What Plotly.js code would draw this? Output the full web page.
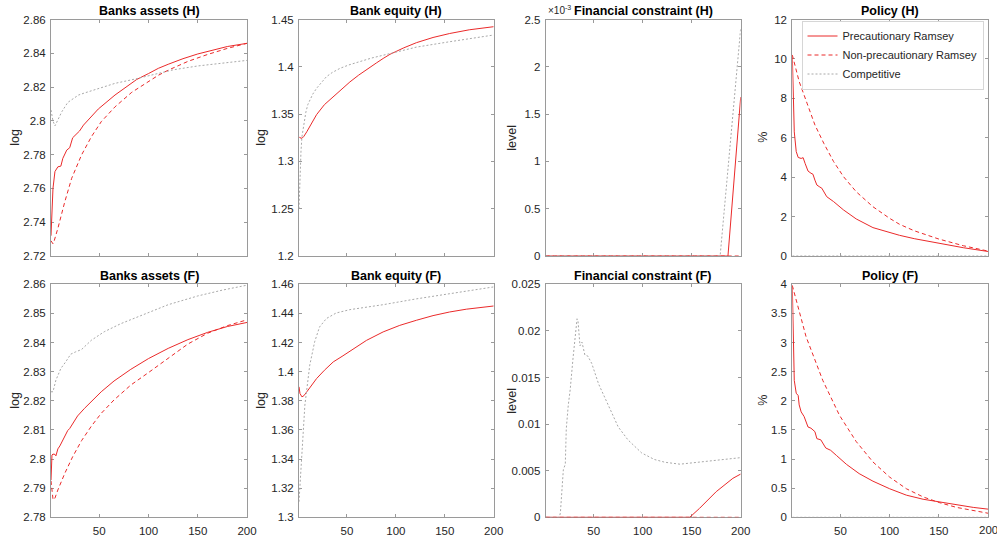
<!DOCTYPE html>
<html>
<head>
<meta charset="utf-8">
<script src="https://cdn.plot.ly/plotly-3.0.1.min.js"></script>
<style>html,body{margin:0;padding:0;background:#fff;overflow:hidden;}#chart{width:997px;height:539px;}</style>
</head>
<body>
<div id="chart"></div>
<script>
// ---------------- DATA ----------------
const seriesNames = ["Precautionary Ramsey", "Non-precautionary Ramsey", "Competitive"];
const panelTitles = ["Banks assets (H)", "Bank equity (H)", "Financial constraint (H)", "Policy (H)",
                     "Banks assets (F)", "Bank equity (F)", "Financial constraint (F)", "Policy (F)"];
const yLabels = ["log", "log", "level", "%", "log", "log", "level", "%"];
const xTicks = [50, 100, 150, 200];
const xTickText = ["50", "100", "150", "200"];

// Banks assets (H)
const tAssetsH_prec = [1, 2, 3, 5, 8, 11, 13, 17, 20, 23, 27, 30, 34, 39, 49, 66, 83, 88, 100, 110, 120, 135, 150, 165, 180, 200];
const assetsH_prec  = [2.732, 2.748, 2.760, 2.770, 2.7728, 2.7732, 2.7778, 2.7827, 2.7841, 2.7900, 2.7920, 2.7940, 2.7975, 2.8005, 2.8070, 2.8153, 2.8225, 2.8245, 2.8280, 2.8311, 2.8335, 2.8368, 2.8396, 2.8420, 2.8440, 2.8459];
const tAssetsH_non  = [1, 2, 3, 4, 6, 8, 15, 22, 32, 42, 52, 66, 83, 100, 110, 120, 140, 160, 180, 200];
const assetsH_non   = [2.7290, 2.7278, 2.7272, 2.7285, 2.7320, 2.7364, 2.7521, 2.7660, 2.7798, 2.7906, 2.7995, 2.8083, 2.8169, 2.8235, 2.8270, 2.8300, 2.8352, 2.8393, 2.8429, 2.8459];
const tAssetsH_comp = [1, 2, 3, 5, 8, 12, 18, 24, 29, 35, 49, 66, 86, 110, 125, 150, 175, 200];
const assetsH_comp  = [2.8064, 2.8030, 2.8000, 2.7970, 2.8010, 2.8054, 2.8109, 2.8135, 2.8153, 2.8165, 2.8192, 2.8222, 2.8247, 2.8281, 2.8302, 2.8325, 2.8343, 2.8358];

// Bank equity (H)
const tEquityH_prec = [1, 2, 4, 6, 9, 14, 19, 27, 36, 45, 53, 62, 70, 80, 87, 94, 108, 121, 138, 155, 175, 200];
const equityH_prec  = [1.3261, 1.3250, 1.3244, 1.3265, 1.3314, 1.3410, 1.3495, 1.3600, 1.3684, 1.3768, 1.3840, 1.3912, 1.3972, 1.4040, 1.4088, 1.4132, 1.4200, 1.4255, 1.4310, 1.4352, 1.4391, 1.4424];
const tEquityH_comp = [1, 2, 3, 4, 5, 6, 8, 10, 12, 15, 19, 24, 29, 35, 43, 52, 63, 75, 94, 121, 155, 200];
const equityH_comp  = [1.250, 1.285, 1.310, 1.326, 1.334, 1.341, 1.352, 1.360, 1.365, 1.371, 1.3773, 1.384, 1.3895, 1.3940, 1.3984, 1.4020, 1.4054, 1.4092, 1.4140, 1.4208, 1.4265, 1.4336];

// Financial constraint (H), in units of 1e-3
const tFinH_prec = [1, 187, 200];
const finH_prec  = [0, 0, 1.68];
const tFinH_non  = [1, 200];
const finH_non   = [0, 0];
const tFinH_comp = [1, 179, 200];
const finH_comp  = [0, 0, 2.41];

// Policy (H), %
const tPolicyH_prec = [1, 2, 3, 5, 7, 10, 12, 14, 17, 20, 22, 24, 26, 29, 31, 36, 43, 53, 66, 83, 100, 110, 125, 150, 175, 200];
const policyH_prec  = [10.2, 8.0, 6.3, 5.3, 5.0, 4.95, 4.99, 4.7, 4.31, 4.2, 4.15, 3.85, 3.60, 3.50, 3.44, 3.01, 2.76, 2.34, 1.88, 1.44, 1.18, 1.05, 0.88, 0.64, 0.42, 0.23];
const tPolicyH_non  = [1, 4, 8, 16, 24, 33, 43, 53, 66, 83, 100, 110, 125, 150, 175, 200];
const policyH_non   = [10.2, 9.6, 8.85, 7.75, 6.65, 5.72, 4.79, 4.03, 3.26, 2.50, 1.91, 1.61, 1.28, 0.86, 0.52, 0.25];
const tPolicyH_comp = [1, 200];
const policyH_comp  = [0, 0];

// Banks assets (F)
const tAssetsF_prec = [1, 2, 3, 5, 6, 8, 10, 12, 15, 18, 20, 23, 28, 35, 42, 52, 65, 75, 82, 100, 120, 140, 160, 180, 200];
const assetsF_prec  = [2.7928, 2.8014, 2.8017, 2.8016, 2.8011, 2.8035, 2.8045, 2.8058, 2.8080, 2.8098, 2.8105, 2.8120, 2.8148, 2.8174, 2.8197, 2.8231, 2.8268, 2.8293, 2.8308, 2.8345, 2.8380, 2.8410, 2.8435, 2.8455, 2.8469];
const tAssetsF_non  = [1, 2, 3, 4, 5, 8, 15, 23, 32, 42, 52, 65, 82, 100, 120, 140, 160, 180, 200];
const assetsF_non   = [2.7925, 2.7885, 2.7863, 2.7860, 2.7866, 2.7894, 2.7951, 2.8008, 2.8063, 2.8113, 2.8157, 2.8203, 2.8254, 2.8297, 2.8345, 2.8395, 2.8432, 2.8458, 2.8478];
const tAssetsF_comp = [1, 3, 6, 11, 16, 21, 26, 32, 42, 55, 72, 93, 110, 120, 150, 175, 200];
const assetsF_comp  = [2.8231, 2.8231, 2.8271, 2.8311, 2.8334, 2.8360, 2.8368, 2.8376, 2.8408, 2.8437, 2.8465, 2.8494, 2.8517, 2.8530, 2.8560, 2.8580, 2.8597];

// Bank equity (F)
const tEquityF_prec = [1, 2, 4, 6, 9, 14, 19, 27, 36, 45, 53, 70, 87, 104, 121, 138, 155, 172, 200];
const equityF_prec  = [1.3896, 1.3850, 1.3827, 1.3835, 1.3862, 1.3910, 1.3953, 1.4010, 1.4067, 1.4105, 1.4141, 1.4215, 1.4273, 1.4318, 1.4353, 1.4385, 1.4410, 1.4429, 1.4451];
const tEquityF_comp = [1, 2, 3, 4, 5, 7, 9, 12, 17, 22, 29, 39, 53, 87, 121, 155, 200];
const equityF_comp  = [1.3107, 1.322, 1.335, 1.345, 1.360, 1.377, 1.388, 1.4045, 1.4205, 1.4307, 1.4365, 1.4403, 1.4426, 1.4460, 1.4500, 1.4536, 1.4582];

// Financial constraint (F)
const tFinF_prec = [1, 148, 158, 175, 192, 200];
const finF_prec  = [0, 0, 0.00096, 0.00275, 0.00418, 0.00464];
const tFinF_non  = [1, 200];
const finF_non   = [0, 0];
const tFinF_comp = [1, 15, 16, 17, 19, 21, 22, 24, 26, 29, 33, 34, 36, 38, 39, 41, 44, 48, 55, 65, 75, 85, 99, 112, 123, 138, 165, 200];
const finF_comp  = [0, 0, 0.0005, 0.0025, 0.0051, 0.0057, 0.0095, 0.0120, 0.0137, 0.0172, 0.0213, 0.0210, 0.0184, 0.0188, 0.0183, 0.0174, 0.0173, 0.0165, 0.0143, 0.0119, 0.0097, 0.0083, 0.0069, 0.0062, 0.0059, 0.0057, 0.0060, 0.0064];

// Policy (F), %
const tPolicyF_prec = [1, 2, 3, 5, 7, 8, 10, 13, 17, 20, 24, 26, 30, 35, 40, 46, 56, 69, 83, 100, 117, 134, 151, 168, 185, 200];
const policyF_prec  = [3.98, 3.0, 2.35, 2.13, 2.09, 1.93, 1.81, 1.73, 1.55, 1.53, 1.47, 1.35, 1.33, 1.19, 1.15, 1.06, 0.91, 0.75, 0.62, 0.49, 0.38, 0.31, 0.26, 0.21, 0.17, 0.14];
const tPolicyF_non  = [1, 5, 15, 32, 49, 66, 83, 100, 117, 134, 151, 168, 185, 200];
const policyF_non   = [3.98, 3.73, 3.10, 2.35, 1.75, 1.30, 0.95, 0.69, 0.49, 0.35, 0.25, 0.17, 0.11, 0.07];
const tPolicyF_comp = [1, 200];
const policyF_comp  = [0, 0];

// y tick labels
const yTicks1 = [2.72, 2.74, 2.76, 2.78, 2.80, 2.82, 2.84, 2.86];
const yTickText1 = ["2.72", "2.74", "2.76", "2.78", "2.8", "2.82", "2.84", "2.86"];
const yTicks2 = [1.2, 1.25, 1.3, 1.35, 1.4, 1.45];
const yTickText2 = ["1.2", "1.25", "1.3", "1.35", "1.4", "1.45"];
const yTicks3 = [0, 0.5, 1, 1.5, 2, 2.5];
const yTickText3 = ["0", "0.5", "1", "1.5", "2", "2.5"];
const yTicks4 = [0, 2, 4, 6, 8, 10, 12];
const yTickText4 = ["0", "2", "4", "6", "8", "10", "12"];
const yTicks5 = [2.78, 2.79, 2.80, 2.81, 2.82, 2.83, 2.84, 2.85, 2.86];
const yTickText5 = ["2.78", "2.79", "2.8", "2.81", "2.82", "2.83", "2.84", "2.85", "2.86"];
const yTicks6 = [1.30, 1.32, 1.34, 1.36, 1.38, 1.40, 1.42, 1.44, 1.46];
const yTickText6 = ["1.3", "1.32", "1.34", "1.36", "1.38", "1.4", "1.42", "1.44", "1.46"];
const yTicks7 = [0, 0.005, 0.01, 0.015, 0.02, 0.025];
const yTickText7 = ["0", "0.005", "0.01", "0.015", "0.02", "0.025"];
const yTicks8 = [0, 0.5, 1, 1.5, 2, 2.5, 3, 3.5, 4];
const yTickText8 = ["0", "0.5", "1", "1.5", "2", "2.5", "3", "3.5", "4"];

// ---------------- BUILD ----------------
const W = 997, H = 539;
const FONT = "Liberation Sans, Arial, Helvetica, sans-serif";
const RED = "#ea2a2a", GRAY = "#a8a8a8", AXC = "#9a9a9a", TXT = "#262626";

const panels = [
  {series: [[tAssetsH_prec, assetsH_prec], [tAssetsH_non, assetsH_non], [tAssetsH_comp, assetsH_comp]], yr: [2.72, 2.86], tv: yTicks1, tt: yTickText1},
  {series: [[tEquityH_prec, equityH_prec], null, [tEquityH_comp, equityH_comp]], yr: [1.2, 1.45], tv: yTicks2, tt: yTickText2},
  {series: [[tFinH_prec, finH_prec], [tFinH_non, finH_non], [tFinH_comp, finH_comp]], yr: [0, 2.5], tv: yTicks3, tt: yTickText3},
  {series: [[tPolicyH_prec, policyH_prec], [tPolicyH_non, policyH_non], [tPolicyH_comp, policyH_comp]], yr: [0, 12], tv: yTicks4, tt: yTickText4, legend: true},
  {series: [[tAssetsF_prec, assetsF_prec], [tAssetsF_non, assetsF_non], [tAssetsF_comp, assetsF_comp]], yr: [2.78, 2.86], tv: yTicks5, tt: yTickText5},
  {series: [[tEquityF_prec, equityF_prec], null, [tEquityF_comp, equityF_comp]], yr: [1.3, 1.46], tv: yTicks6, tt: yTickText6},
  {series: [[tFinF_prec, finF_prec], [tFinF_non, finF_non], [tFinF_comp, finF_comp]], yr: [0, 0.025], tv: yTicks7, tt: yTickText7},
  {series: [[tPolicyF_prec, policyF_prec], [tPolicyF_non, policyF_non], [tPolicyF_comp, policyF_comp]], yr: [0, 4], tv: yTicks8, tt: yTickText8, edgeLabel: true}
];

// pixel boxes of plot areas
const colPx = [[51, 247], [299, 493.7], [545.7, 740.7], [792.3, 988]];
const rowPx = [[19.5, 256], [284.3, 517.3]];
const ylabPx = [15, 261, 512, 763];

const lineStyles = [
  {color: RED, width: 1, dash: "solid"},
  {color: RED, width: 1, dash: "4px,3px"},
  {color: GRAY, width: 1, dash: "2px,2px"}
];

const traces = [];
const layout = {
  width: W, height: H,
  margin: {l: 0, r: 0, t: 0, b: 0},
  paper_bgcolor: "#fff", plot_bgcolor: "#fff",
  font: {family: FONT, size: 11, color: TXT},
  showlegend: true,
  legend: {
    x: 801.5 / W, y: 1 - 20.5 / H, xanchor: "left", yanchor: "top",
    bgcolor: "#fff", bordercolor: "#d6d6d6", borderwidth: 1,
    font: {family: FONT, size: 11, color: TXT},
    tracegroupgap: 0, itemwidth: 30
  },
  annotations: []
};

panels.forEach((p, i) => {
  const n = i + 1;
  const col = i % 4, row = Math.floor(i / 4);
  const xa = "xaxis" + (n === 1 ? "" : n), ya = "yaxis" + (n === 1 ? "" : n);
  const xr = "x" + (n === 1 ? "" : n), yr = "y" + (n === 1 ? "" : n);
  const cx = colPx[col], ry = rowPx[row];
  // the right-most panel's last label sits on the page edge, where Plotly drops it;
  // that one label is written as an annotation at the same spot instead
  const tv = p.edgeLabel ? xTicks.slice(0, -1) : xTicks;
  const tt = p.edgeLabel ? xTickText.slice(0, -1) : xTickText;
  layout[xa] = {
    domain: [cx[0] / W, cx[1] / W], anchor: yr, range: [1, 200],
    tickvals: tv, ticktext: tt, showticklabels: row === 1,
    ticks: "inside", ticklen: 3, tickcolor: AXC, showline: true, linecolor: AXC, linewidth: 1,
    mirror: "ticks", showgrid: false, zeroline: false, layer: "below traces",
    tickfont: {family: FONT, size: 11.5, color: TXT}, ticklabelstandoff: 3,
    fixedrange: true
  };
  layout[ya] = {
    domain: [1 - ry[1] / H, 1 - ry[0] / H], anchor: xr, range: p.yr,
    tickvals: p.tv, ticktext: p.tt,
    ticks: "inside", ticklen: 3, tickcolor: AXC, showline: true, linecolor: AXC, linewidth: 1,
    mirror: "ticks", showgrid: false, zeroline: false, layer: "below traces",
    tickfont: {family: FONT, size: 11.5, color: TXT}, ticklabelstandoff: 2,
    fixedrange: true
  };
  p.series.forEach((s, k) => {
    if (!s) return;
    traces.push({
      type: "scatter", mode: "lines", x: s[0], y: s[1],
      xaxis: xr, yaxis: yr, name: seriesNames[k],
      line: lineStyles[k], showlegend: !!p.legend, hoverinfo: "skip"
    });
  });
  // panel title
  layout.annotations.push({
    text: "<b>" + panelTitles[i] + "</b>", xref: "paper", yref: "paper",
    x: (cx[0] + cx[1]) / 2 / W, y: 1 - (ry[0] - 8) / H, xanchor: "center", yanchor: "middle",
    showarrow: false, font: {family: FONT, size: 12.5, color: "#000"}
  });
  // y label
  layout.annotations.push({
    text: yLabels[i], xref: "paper", yref: "paper",
    x: ylabPx[col] / W, y: 1 - (ry[0] + ry[1]) / 2 / H, xanchor: "center", yanchor: "middle",
    textangle: -90, showarrow: false, font: {family: FONT, size: 12.5, color: TXT}
  });
});

// exponent label for Financial constraint (H)
layout.annotations.push({
  text: "×10<sup>-3</sup>", xref: "paper", yref: "paper",
  x: 546 / W, y: 1 - 18 / H, xanchor: "left", yanchor: "bottom",
  showarrow: false, font: {family: FONT, size: 10, color: TXT}
});

Plotly.newPlot("chart", traces, layout, {displayModeBar: false, staticPlot: true}).then(gd => {
  // align the edge label with the other bottom-row x tick labels
  const gdBox = gd.getBoundingClientRect();
  const lastTick = xTickText[xTickText.length - 1];
  const ref = Array.from(gd.querySelectorAll("g.xtick text"))
    .find(t => t.textContent === lastTick && t.getBoundingClientRect().height > 0);
  let midY = 529.5;
  if (ref) { const b = ref.getBoundingClientRect(); midY = (b.top + b.bottom) / 2 - gdBox.top; }
  const ann = gd.layout.annotations.slice();
  ann.push({
    text: lastTick, xref: "x8", yref: "paper",
    x: xTicks[xTicks.length - 1], y: 1 - midY / H, xanchor: "center", yanchor: "middle",
    showarrow: false, borderpad: 0, font: {family: FONT, size: 11.5, color: TXT}
  });
  return Plotly.relayout(gd, {annotations: ann});
});
</script>
</body>
</html>
